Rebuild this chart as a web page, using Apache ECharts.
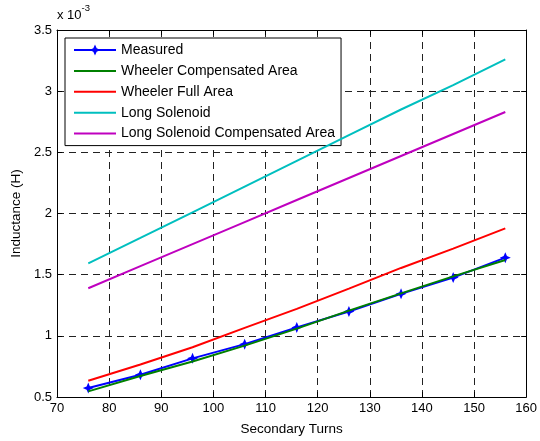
<!DOCTYPE html>
<html>
<head>
<meta charset="utf-8">
<script src="https://cdn.jsdelivr.net/npm/echarts@6/dist/echarts.min.js"></script>
<style>
  html, body { margin: 0; padding: 0; background: #fff; }
  #chart { width: 540px; height: 441px; }
</style>
</head>
<body>
<div id="chart"></div>
<script>
// secondary turns and inductance values (in units of 1e-3 H)
const turns = [76, 86, 96, 106, 116, 126, 136, 146, 156];
const measured = [0.573, 0.682, 0.816, 0.932, 1.069, 1.199, 1.343, 1.476, 1.639];
const wheelerComp = [0.546, 0.671, 0.79, 0.92, 1.059, 1.206, 1.347, 1.486, 1.62];
const wheelerFull = [0.633, 0.766, 0.907, 1.065, 1.22, 1.386, 1.555, 1.713, 1.878];
const longSolenoid = [1.593, 1.80, 2.01, 2.22, 2.43, 2.64, 2.85, 3.05, 3.26];
const longSolenoidComp = [1.389, 1.57, 1.75, 1.93, 2.11, 2.29, 2.47, 2.65, 2.83];

const names = ["Measured", "Wheeler Compensated Area", "Wheeler Full Area", "Long Solenoid", "Long Solenoid Compensated Area"];
const colors = ["#0000ff", "#008000", "#ff0000", "#00bfbf", "#bf00bf"];
const values = [measured, wheelerComp, wheelerFull, longSolenoid, longSolenoidComp];

const font = "Liberation Sans, Arial, sans-serif";
const gridLine = { show: true, lineStyle: { color: "#222", type: [7, 5], width: 1 } };
const star = "path://M0,-10 L3,-3 L10,0 L3,3 L0,10 L-3,3 L-10,0 L-3,-3 Z";

const chart = echarts.init(document.getElementById("chart"), null, { renderer: "canvas" });

const axisCommon = {
  axisLine: { show: true, onZero: false, lineStyle: { color: "#000", width: 1 } },
  axisTick: { show: true, inside: true, length: 5, lineStyle: { color: "#000" } }
};

chart.setOption({
  animation: false,
  backgroundColor: "#fff",
  textStyle: { fontFamily: font },
  grid: { left: 57, right: 12, top: 30, bottom: 42 },
  legend: {
    orient: "vertical",
    left: 65,
    top: 38,
    data: names.map((n, i) => (i === 0 ? { name: n } : { name: n, itemStyle: { opacity: 0 } })),
    itemWidth: 42,
    itemHeight: 14,
    itemGap: 6.9,
    padding: [5, 6, 5, 8],
    borderColor: "#000",
    borderWidth: 1,
    backgroundColor: "#fff",
    textStyle: { fontSize: 14, color: "#000", fontFamily: font }
  },
  xAxis: [
    {
      type: "value", min: 70, max: 160, interval: 10,
      name: "Secondary Turns", nameLocation: "middle", nameGap: 25,
      nameTextStyle: { fontSize: 13.5, color: "#000" },
      axisLabel: { fontSize: 13, color: "#000", margin: 5 },
      splitLine: gridLine,
      ...axisCommon
    },
    {
      type: "value", min: 70, max: 160, interval: 10, position: "top",
      axisLabel: { show: false }, splitLine: { show: false },
      ...axisCommon
    }
  ],
  yAxis: [
    {
      type: "value", min: 0.5, max: 3.5, interval: 0.5,
      name: "Inductance (H)", nameLocation: "middle", nameGap: 33,
      nameTextStyle: { fontSize: 13.5, color: "#000" },
      axisLabel: { fontSize: 13, color: "#000", margin: 5 },
      splitLine: gridLine,
      ...axisCommon
    },
    {
      type: "value", min: 0.5, max: 3.5, interval: 0.5, position: "right",
      axisLabel: { show: false }, splitLine: { show: false },
      ...axisCommon
    }
  ],
  graphic: [{
    type: "text", left: 57, top: 3,
    style: {
      text: "{a|x 10}{b|-3}",
      rich: {
        a: { fontSize: 13, fill: "#000", fontFamily: font, padding: [6, 0, 0, 0] },
        b: { fontSize: 9.5, fill: "#000", fontFamily: font, verticalAlign: "top" }
      }
    }
  }],
  series: values.map((vals, i) => ({
    name: names[i],
    type: "line",
    data: turns.map((t, j) => [t, vals[j]]),
    symbol: i === 0 ? star : "none",
    symbolSize: 11,
    showSymbol: i === 0,
    lineStyle: { color: colors[i], width: 2 },
    itemStyle: { color: colors[i] },
    z: 3 + i
  }))
});
</script>
</body>
</html>
